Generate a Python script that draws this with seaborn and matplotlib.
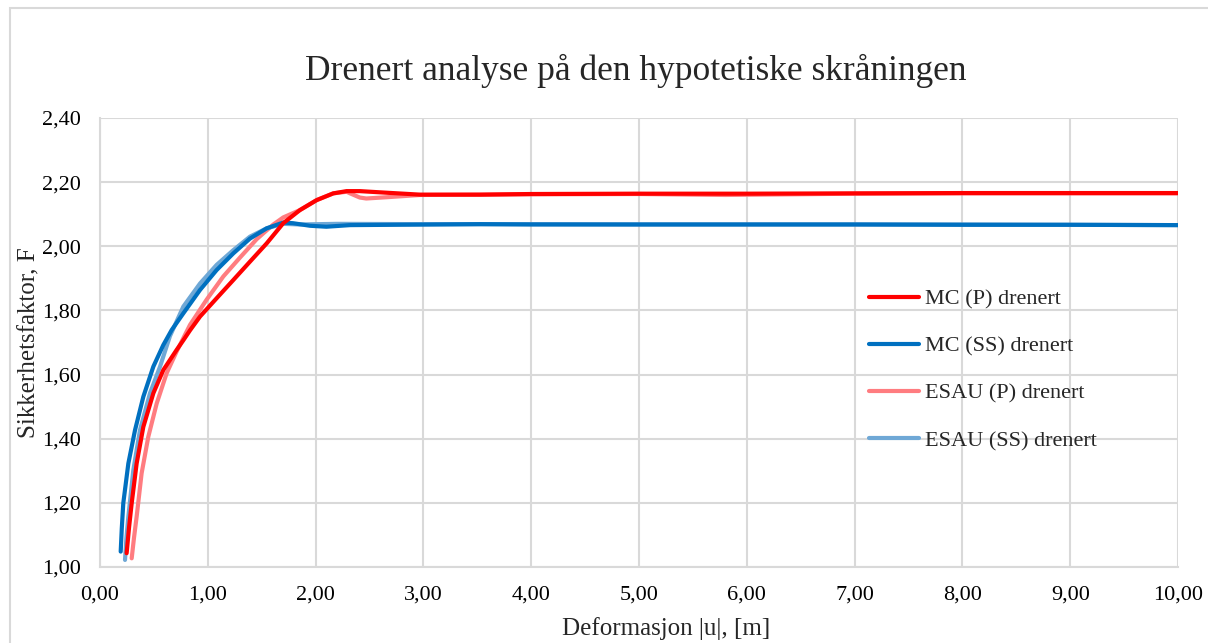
import matplotlib
matplotlib.use("Agg")
import matplotlib.pyplot as plt
from matplotlib.patches import Rectangle
from matplotlib.ticker import FuncFormatter
import numpy as np
import pandas as pd
import seaborn as sns

# Deformation |u| [m] and safety factor F for each analysis
mc_p_u = [0.247, 0.270, 0.294, 0.340, 0.402, 0.495, 0.587, 0.711, 0.773, 0.835, 0.928, 1.082, 1.237,
          1.391, 1.546, 1.700, 1.855, 2.010, 2.164, 2.288, 2.410, 2.660, 2.970, 3.530, 4.000, 5.000,
          6.000, 7.000, 8.000, 9.000, 10.000]
mc_p_f = [1.043, 1.125, 1.199, 1.323, 1.437, 1.542, 1.614, 1.677, 1.707, 1.738, 1.781, 1.838, 1.895,
          1.952, 2.009, 2.072, 2.113, 2.144, 2.165, 2.172, 2.172, 2.167, 2.161, 2.161, 2.163, 2.164,
          2.164, 2.165, 2.166, 2.166, 2.166]

mc_ss_u = [0.192, 0.202, 0.216, 0.263, 0.325, 0.402, 0.495, 0.587, 0.665, 0.773, 0.928, 1.082, 1.237,
           1.391, 1.546, 1.700, 1.790, 1.948, 2.100, 2.320, 3.530, 4.000, 5.000, 6.000, 7.000, 8.000,
           9.000, 10.000]
mc_ss_f = [1.048, 1.120, 1.199, 1.323, 1.427, 1.531, 1.625, 1.692, 1.739, 1.791, 1.864, 1.926, 1.978,
           2.024, 2.056, 2.074, 2.072, 2.064, 2.061, 2.066, 2.069, 2.068, 2.068, 2.068, 2.068, 2.067,
           2.067, 2.066]

esau_p_u = [0.294, 0.315, 0.340, 0.386, 0.448, 0.526, 0.618, 0.711, 0.835, 0.990, 1.144, 1.299, 1.453,
            1.608, 1.700, 1.855, 2.010, 2.164, 2.288, 2.320, 2.410, 2.470, 2.660, 2.970, 3.530, 4.000,
            5.000, 5.800, 7.000, 8.000, 9.000, 10.000]
esau_p_f = [1.027, 1.090, 1.157, 1.292, 1.406, 1.510, 1.604, 1.672, 1.755, 1.834, 1.906, 1.965, 2.022,
            2.068, 2.090, 2.113, 2.144, 2.165, 2.170, 2.165, 2.152, 2.149, 2.153, 2.160, 2.161, 2.162,
            2.163, 2.160, 2.164, 2.165, 2.165, 2.165]

esau_ss_u = [0.232, 0.245, 0.263, 0.309, 0.371, 0.464, 0.557, 0.649, 0.773, 0.928, 1.082, 1.237, 1.391,
             1.546, 1.700, 1.850, 2.200, 3.000, 4.000, 5.000, 6.000, 7.000, 8.000, 9.000, 10.000]
esau_ss_f = [1.022, 1.090, 1.157, 1.302, 1.427, 1.542, 1.625, 1.720, 1.812, 1.884, 1.942, 1.988, 2.030,
             2.056, 2.070, 2.068, 2.070, 2.069, 2.069, 2.068, 2.068, 2.068, 2.068, 2.067, 2.066]

series = [
    ("MC (P) drenert", mc_p_u, mc_p_f),
    ("MC (SS) drenert", mc_ss_u, mc_ss_f),
    ("ESAU (P) drenert", esau_p_u, esau_p_f),
    ("ESAU (SS) drenert", esau_ss_u, esau_ss_f),
]
colors = {
    "MC (P) drenert": "#ff0000",
    "MC (SS) drenert": "#0070c0",
    "ESAU (P) drenert": "#ff7c80",
    "ESAU (SS) drenert": "#6fa8d6",
}
draw_order = ["ESAU (P) drenert", "ESAU (SS) drenert", "MC (SS) drenert", "MC (P) drenert"]

frames = []
for name, u, f in series:
    frames.append(pd.DataFrame({"u": u, "F": f, "serie": name}))
df = pd.concat(frames, ignore_index=True)

sns.set_theme(style="white")
plt.rcParams["font.family"] = ["Liberation Serif", "DejaVu Serif"]

fig = plt.figure(figsize=(12.08, 6.43), dpi=100)
fig.patches.append(Rectangle((10 / 1208, -0.05), 1.1, 1 - 8 / 643 + 0.05,
                             transform=fig.transFigure, fill=False,
                             edgecolor="#d9d9d9", linewidth=1.5, zorder=0))
ax = fig.add_axes([100 / 1208, 1 - 567 / 643, 1078 / 1208, 449 / 643])

for name in draw_order:
    sub = df[df["serie"] == name]
    sns.lineplot(data=sub, x="u", y="F", ax=ax, color=colors[name],
                 linewidth=3.0, sort=False, estimator=None, label=None,
                 zorder=3 if name.startswith("MC") else 2)
for line in ax.get_lines():
    line.set_solid_joinstyle("round")
    line.set_solid_capstyle("round")

ax.set_xlim(0, 10)
ax.set_ylim(1.0, 2.4)
ax.set_xticks(np.arange(0, 10.01, 1.0))
ax.set_yticks(np.arange(1.0, 2.401, 0.2))
comma = FuncFormatter(lambda v, p: f"{v:.2f}".replace(".", ","))
ax.xaxis.set_major_formatter(comma)
ax.yaxis.set_major_formatter(comma)
ax.grid(True, color="#d9d9d9", linewidth=1.5)
ax.set_axisbelow(True)
for side in ["top", "right"]:
    ax.spines[side].set_visible(False)
for side in ["left", "bottom"]:
    ax.spines[side].set_color("#d9d9d9")
    ax.spines[side].set_linewidth(1.5)
ax.tick_params(axis="x", labelsize=16, colors="#000000", length=0, pad=13)
ax.tick_params(axis="y", labelsize=16, colors="#000000", length=0, pad=14)

ax.set_xlabel("Deformasjon |u|, [m]", fontsize=18)
ax.set_ylabel("Sikkerhetsfaktor, F", fontsize=18)
ax.xaxis.set_label_coords((666 - 100) / 1078, (567 - 617) / 449)
ax.yaxis.set_label_coords((40 - 100) / 1078, 0.5)
fig.text(0.526, 1 - 71 / 643, "Drenert analyse på den hypotetiske skråningen",
         ha="center", va="center", fontsize=25.5)

handles = [plt.Line2D([0], [0], color=colors[n], linewidth=3.0) for n, _, _ in series]
labels = [n for n, _, _ in series]
leg = ax.legend(handles, labels, loc="upper left", bbox_to_anchor=(0.705, 0.639),
                frameon=False, fontsize=16, handlelength=2.25, handletextpad=0.27,
                labelspacing=1.2, borderaxespad=0)

fig.savefig("out.png", dpi=100, facecolor="white")
